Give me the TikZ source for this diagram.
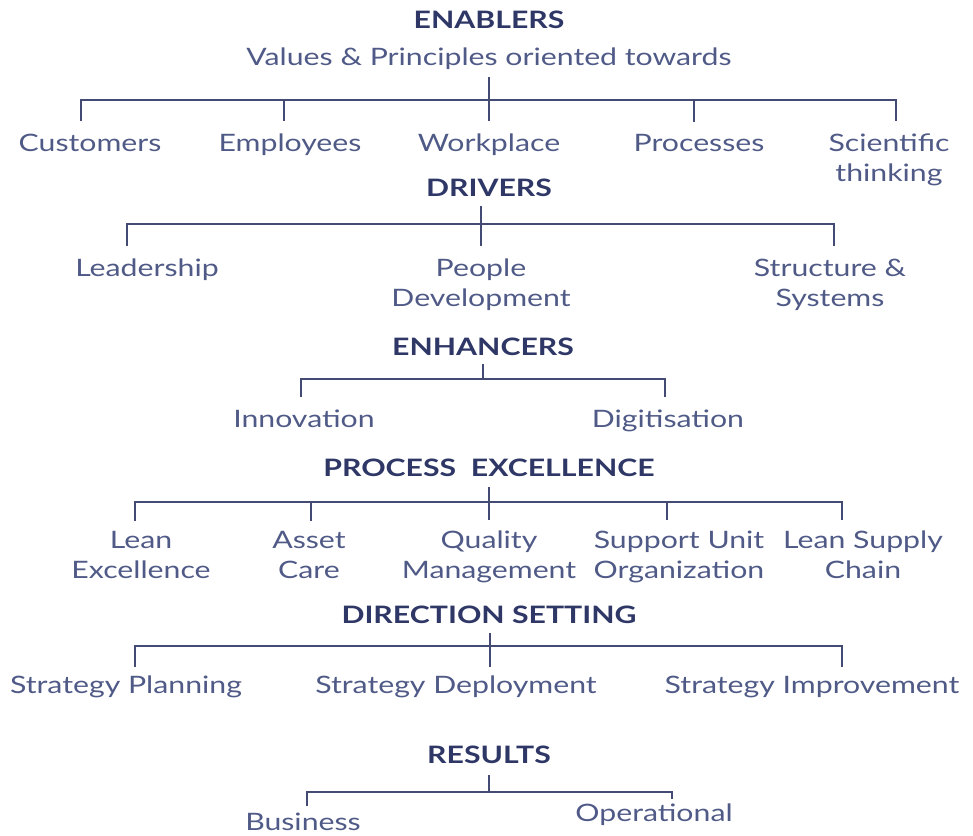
\documentclass[tikz,border=0pt]{standalone}
\usepackage{fontspec}
\setmainfont{Lato}[FakeStretch=1.26]
\definecolor{navy}{HTML}{2E3766}
\definecolor{txt}{HTML}{505A87}
\tikzset{
  head/.style={font=\fontsize{24}{28}\selectfont\bfseries, text=navy, inner sep=0pt, anchor=base},
  item/.style={font=\fontsize{24}{30}\selectfont, text=txt, align=center, inner sep=0pt, anchor=base},
  link/.style={draw=navy!90, line width=1.6pt},
}
\begin{document}
\begin{tikzpicture}[x=1pt,y=-1pt]
\useasboundingbox (0,0) rectangle (973,835);

% ---------- Enablers ----------
\node[head] (en) at (489,28) {ENABLERS};
\node[item] (ensub) at (489,65) {Values \& Principles oriented towards};
\coordinate (enL) at (81,100);
\coordinate (enR) at (896,100);
\node[item] (cust) at (90,151) {Customers};
\node[item] (empl) at (290,151) {Employees};
\node[item] (work) at (489,151) {Workplace};
\node[item] (proc) at (699,151) {Processes};
\node[item] (sci)  at (889,181) {Scientific\\thinking};
\draw[link] ([yshift=-12pt]ensub.base) -- ([yshift=12pt]work.north);
\draw[link] ([yshift=12pt]cust.north -| enL) |- (enR) -- ([yshift=12pt]sci.north -| enR);
\draw[link] ([yshift=12pt]empl.north -| 284,0) -- (284,100);
\draw[link] ([yshift=12pt]proc.north -| 694,0) -- (694,100);

% ---------- Drivers ----------
\node[head] (dr) at (489,196) {DRIVERS};
\coordinate (drL) at (127,224);
\coordinate (drR) at (834,224);
\node[item] (lead) at (147,276) {Leadership};
\node[item] (peop) at (481,306) {People\\Development};
\node[item] (stru) at (830,306) {Structure \&\\Systems};
\draw[link] ([yshift=-10pt]dr.base -| 481,0) -- ([yshift=12pt]peop.north);
\draw[link] ([yshift=12pt]lead.north -| drL) |- (drR) -- ([yshift=12pt]stru.north -| drR);

% ---------- Enhancers ----------
\node[head] (eh) at (483,355) {ENHANCERS};
\coordinate (ehL) at (301,379);
\coordinate (ehR) at (665,379);
\coordinate (ehJ) at (483,379);
\node[item] (inno) at (304,427) {Innovation};
\node[item] (digi) at (668,427) {Digitisation};
\draw[link] ([yshift=-9pt]eh.base) -- (ehJ);
\draw[link] ([yshift=12pt]inno.north -| ehL) |- (ehR) -- ([yshift=12pt]digi.north -| ehR);

% ---------- Process excellence ----------
\node[head] (pe) at (489,476) {PROCESS\ \ EXCELLENCE};
\coordinate (peL) at (135,502);
\coordinate (peR) at (842,502);
\node[item] (lean) at (141,578) {Lean\\Excellence};
\node[item] (asset) at (309,578) {Asset\\Care};
\node[item] (qual) at (489,578) {Quality\\Management};
\node[item] (supp) at (679,578) {Support Unit\\Organization};
\node[item] (lsc)  at (863,578) {Lean Supply\\Chain};
\draw[link] ([yshift=-11pt]pe.base) -- ([yshift=10pt]qual.north);
\draw[link] ([yshift=10pt]lean.north -| peL) |- (peR) -- ([yshift=10pt]lsc.north -| peR);
\draw[link] ([yshift=10pt]asset.north -| 311,0) -- (311,502);
\draw[link] ([yshift=10pt]supp.north -| 667,0) -- (667,502);

% ---------- Direction setting ----------
\node[head] (ds) at (489,623) {DIRECTION SETTING};
\coordinate (dsL) at (135,646);
\coordinate (dsR) at (842,646);
\coordinate (dsJ) at (490,646);
\node[item] (splan) at (126,693) {Strategy Planning};
\node[item] (sdep)  at (456,693) {Strategy Deployment};
\node[item] (simp)  at (812,693) {Strategy Improvement};
\draw[link] ([yshift=-10pt]ds.base -| dsJ) -- ([yshift=8pt]sdep.north -| dsJ);
\draw[link] ([yshift=8pt]splan.north -| dsL) |- (dsR) -- ([yshift=8pt]simp.north -| dsR);

% ---------- Results ----------
\node[head] (rs) at (489,763) {RESULTS};
\coordinate (rsL) at (307,792);
\coordinate (rsR) at (672,792);
\coordinate (rsJ) at (489,792);
\node[item] (bus) at (303,830) {Business};
\node[item] (oper) at (654,821) {Operational};
\draw[link] ([yshift=-12pt]rs.base) -- (rsJ);
\draw[link] ([yshift=6pt]bus.north -| rsL) |- (rsR) -- ([yshift=4pt]oper.north -| rsR);
\end{tikzpicture}
\end{document}
